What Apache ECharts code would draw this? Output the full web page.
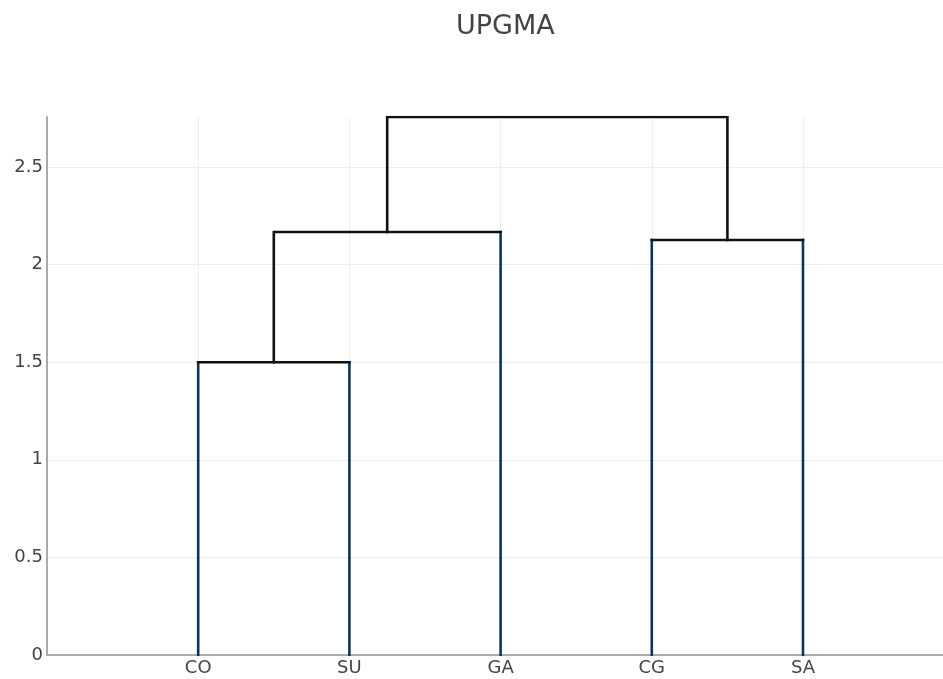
<!DOCTYPE html>
<html>
<head>
<meta charset="utf-8">
<title>UPGMA</title>
<script src="https://cdn.jsdelivr.net/npm/echarts@6/dist/echarts.min.js"></script>
<style>
  html, body { margin: 0; padding: 0; background: #fff; }
  #chart { width: 943px; height: 679px; }
</style>
</head>
<body>
<div id="chart"></div>
<script>
// Leaves of the tree, left to right
const leafLabels = ['CO', 'SU', 'GA', 'CG', 'SA'];
// Merge steps: node ids 0..4 are leaves, each merge creates node 5, 6, ...
const mergeLeft = [0, 5, 3, 6];
const mergeRight = [1, 2, 4, 7];
const mergeHeight = [1.5, 2.167, 2.126, 2.756];
// Y axis tick values
const yTicks = [0, 0.5, 1, 1.5, 2, 2.5];

const LEAF_COLOR = '#0b3556';
const LINK_COLOR = '#111111';
const FONT = 'DejaVu Sans';

const nLeaves = leafLabels.length;
const nodeX = leafLabels.map((_, i) => i);
const nodeY = leafLabels.map(() => 0);
mergeHeight.forEach((h, k) => {
  nodeX.push((nodeX[mergeLeft[k]] + nodeX[mergeRight[k]]) / 2);
  nodeY.push(h);
});

function seg(data, color, z) {
  return {
    type: 'line',
    data: data,
    showSymbol: false,
    symbol: 'none',
    z: z,
    lineStyle: { color: color, width: 2.6, cap: 'square', join: 'miter' },
    emphasis: { disabled: true },
    silent: true
  };
}

// Each merge is drawn as a bracket: leaf stems in blue, upper links in black
const series = [];
mergeHeight.forEach((h, k) => {
  const l = mergeLeft[k], r = mergeRight[k];
  const path = [];
  if (l < nLeaves) {
    series.push(seg([[nodeX[l], 0], [nodeX[l], h]], LEAF_COLOR, 2));
    path.push([nodeX[l], h]);
  } else {
    path.push([nodeX[l], nodeY[l]], [nodeX[l], h]);
  }
  if (r < nLeaves) {
    path.push([nodeX[r], h]);
    series.push(seg([[nodeX[r], 0], [nodeX[r], h]], LEAF_COLOR, 2));
  } else {
    path.push([nodeX[r], h], [nodeX[r], nodeY[r]]);
  }
  series.push(seg(path, LINK_COLOR, 3));
});

const chart = echarts.init(document.getElementById('chart'), null, { renderer: 'canvas' });
chart.setOption({
  animation: false,
  backgroundColor: '#ffffff',
  textStyle: { fontFamily: FONT },
  title: {
    text: 'UPGMA',
    left: 451,
    top: 8,
    textStyle: { fontFamily: FONT, fontSize: 27, fontWeight: 'normal', color: '#444444' }
  },
  grid: { left: 47, right: 0, top: 117, bottom: 24, containLabel: false },
  xAxis: {
    type: 'value',
    min: -1,
    max: 4.926,
    axisLine: { show: true, onZero: false, lineStyle: { color: '#aaaaaa', width: 2 } },
    axisTick: { show: false, customValues: nodeX.slice(0, nLeaves) },
    axisLabel: {
      customValues: nodeX.slice(0, nLeaves),
      formatter: v => leafLabels[Math.round(v)] || '',
      color: '#444444', fontSize: 18, fontFamily: FONT, margin: 4
    },
    splitLine: { show: true, lineStyle: { color: '#eeeeee', width: 1 } }
  },
  yAxis: {
    type: 'value',
    min: 0,
    max: Math.max(...mergeHeight),
    axisLine: { show: true, onZero: false, lineStyle: { color: '#aaaaaa', width: 2 } },
    axisTick: { show: false, customValues: yTicks },
    axisLabel: {
      customValues: yTicks,
      formatter: v => String(v),
      color: '#444444', fontSize: 18, fontFamily: FONT, margin: 4
    },
    splitLine: { show: true, lineStyle: { color: '#eeeeee', width: 1 } }
  },
  series: series
});
</script>
</body>
</html>
